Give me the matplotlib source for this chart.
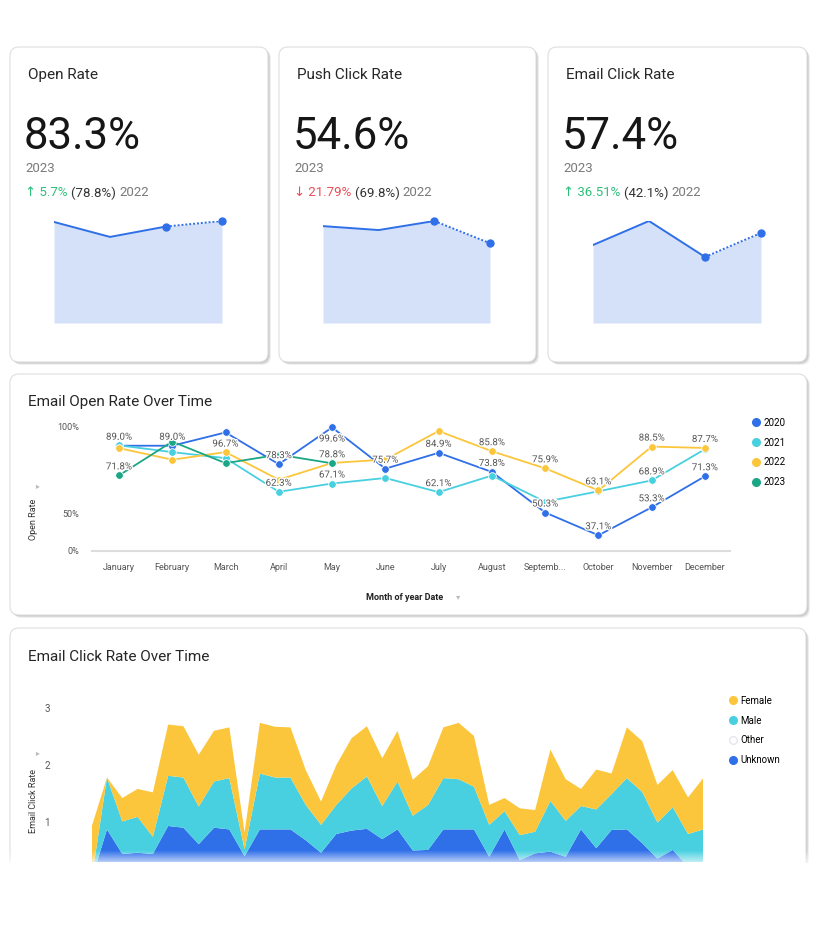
import numpy as np
import matplotlib
matplotlib.use('Agg')
import matplotlib.pyplot as plt
import matplotlib.patheffects as pe
from matplotlib.patches import FancyBboxPatch, Rectangle
from matplotlib.lines import Line2D

W, H = 815, 939
FONT = ['Roboto', 'DejaVu Sans']
plt.rcParams['font.family'] = FONT

# KPI cards
kpi_titles = ['Open Rate', 'Push Click Rate', 'Email Click Rate']
kpi_current = ['83.3%', '54.6%', '57.4%']
kpi_previous = ['(78.8%)', '(69.8%)', '(42.1%)']
kpi_change = ['5.7%', '21.79%', '36.51%']
kpi_up = [True, False, True]
spark_open = [82.5, 70.3, 78.8, 83.3]
spark_push = [66.3, 63.6, 69.8, 54.6]
spark_email = [49.7, 65.0, 42.1, 57.4]

# Email open rate over time
months = ['January', 'February', 'March', 'April', 'May', 'June', 'July',
          'August', 'Septemb...', 'October', 'November', 'December']
open_2020 = [89.0, 89.0, 96.7, 78.3, 99.6, 75.7, 84.9, 73.8, 50.3, 37.1, 53.3, 71.3]
open_2021 = [89.2, 85.3, 81.8, 62.3, 67.1, 70.3, 62.1, 71.7, 56.5, 62.6, 68.9, 87.0]
open_2022 = [87.6, 80.9, 85.3, 69.3, 79.0, 81.0, 97.5, 85.8, 75.9, 63.1, 88.5, 87.7]
open_2023 = [71.8, 91.4, 78.9, 83.8, 78.8]
labelled_months = {'2020': list(range(12)), '2021': [3, 4, 6, 10],
                   '2022': [7, 8, 9, 10, 11], '2023': [0, 4]}

# Email click rate over time (stacked by gender)
click_unknown = [0.0, .87, .44, .46, .44, .93, .90, .61, .90, .87, .40, .87, .87, .87,
                 .68, .46, .79, .85, .88, .70, .87, .50, .51, .87, .87, .87, .39, .87,
                 .33, .45, .48, .39, .87, .54, .86, .87, .63, .36, .51, .22, .16]
click_other = [0.0] * 41
click_male = [0.0, .91, .57, .63, .30, .88, .88, .66, .81, .90, .12, .98, .91, .91,
              .62, .49, .51, .74, .92, .58, .84, .61, .79, .90, .88, .75, .56, .32,
              .44, .38, .89, .63, .41, .68, .63, .90, .90, .63, .75, .57, .71]
click_female = [.92, 0.0, .41, .49, .78, .90, .90, .91, .89, .89, .30, .89, .89, .88,
                .61, .41, .70, .88, .88, .84, .89, .63, .68, .89, .99, .89, .35, .23,
                .47, .38, .90, .73, .30, .70, .36, .89, .89, .66, .65, .64, .90]

BLUE = '#2f6fe8'
CYAN = '#48d0e0'
YELLOW = '#fcc63c'
GREEN = '#1ba786'
FILL = '#d4e1f9'

fig = plt.figure(figsize=(W / 100, H / 100), dpi=100)
fig.patch.set_facecolor('white')


def px_axes(x0, y0, x1, y1, z=1):
    ax = fig.add_axes([x0 / W, 1 - y1 / H, (x1 - x0) / W, (y1 - y0) / H], zorder=z)
    ax.set_facecolor('none')
    return ax


def ftext(x, y, s, **kw):
    return fig.text(x / W, 1 - y / H, s, **kw)


# background with cards
bg = px_axes(0, 0, W, H, z=0)
bg.set_xlim(0, W)
bg.set_ylim(H, 0)
bg.axis('off')

cards = [(10, 47, 268, 362), (279, 47, 536, 362), (548, 47, 807, 362),
         (10, 374, 807, 615), (10, 628, 806, 900)]
for x0, y0, x1, y1 in cards:
    for off, a in [(3, 0.15), (2, 0.25), (1, 0.35)]:
        bg.add_patch(FancyBboxPatch((x0 + off, y0 + off), x1 - x0, y1 - y0,
                                    boxstyle='round,pad=0,rounding_size=9',
                                    fc='#9a9a9a', ec='none', alpha=a))
    bg.add_patch(FancyBboxPatch((x0, y0), x1 - x0, y1 - y0,
                                boxstyle='round,pad=0,rounding_size=9',
                                fc='white', ec='#dedede', lw=0.8))
bg.add_patch(Rectangle((0, 863), W, H - 863, fc='white', ec='none', zorder=5))

renderer = fig.canvas.get_renderer()


def seg_text(x, y, parts, size):
    for s, c in parts:
        t = ftext(x, y, s, color=c, fontsize=size, va='center', ha='left')
        x += t.get_window_extent(renderer).width


def sparkline(x0, x1, vals):
    ax = px_axes(x0, 221, x1, 323)
    xs = np.arange(len(vals))
    ax.fill_between(xs, 0, vals, color=FILL, lw=0)
    ax.plot(xs[:3], vals[:3], color=BLUE, lw=1.4)
    ax.plot(xs[2:], vals[2:], color=BLUE, lw=1.4, ls=(0, (1, 1)))
    ax.plot(xs[2:], vals[2:], 'o', color=BLUE, ms=5, clip_on=False)
    ax.set_xlim(0, len(vals) - 1)
    ax.set_ylim(0, max(vals))
    ax.axis('off')


card_x = [25, 294, 563]
spark_x = [(54, 222), (323, 490), (593, 761)]
sparks = [spark_open, spark_push, spark_email]
for i in range(3):
    x = card_x[i]
    ftext(x + 3, 75, kpi_titles[i], fontsize=11, color='#262626', va='center')
    ftext(x - 1, 137, kpi_current[i], fontsize=31.5, color='#161616', va='center')
    ftext(x, 168, '2023', fontsize=9.5, color='#7a7a7a', va='center')
    col = '#2bbf7a' if kpi_up[i] else '#ea4d57'
    arrow = '\u2191' if kpi_up[i] else '\u2193'
    seg_text(x, 193, [(arrow + ' ' + kpi_change[i] + ' ', col),
                      (kpi_previous[i] + ' ', '#333333'), ('2022', '#7a7a7a')], 9.5)
    sparkline(spark_x[i][0], spark_x[i][1], sparks[i])

# ---- line chart ----
ftext(28, 402, 'Email Open Rate Over Time', fontsize=11, color='#262626', va='center')
ax = px_axes(92, 415, 730, 551, z=2)
series = [('2020', open_2020, BLUE), ('2021', open_2021, CYAN),
          ('2022', open_2022, YELLOW), ('2023', open_2023, GREEN)]
for name, vals, col in series:
    xs = np.arange(len(vals))
    ax.plot(xs, vals, color=col, lw=1.3, marker='o', ms=5.5, mec='white', mew=0.6,
            clip_on=False)
for name, vals, col in series:
    for m in labelled_months[name]:
        v = vals[m]
        dy = -8 if v > 95 else 6.5
        ax.annotate(f'{v:.1f}%', (m, v), xytext=(0, dy), textcoords='offset points',
                    ha='center', va='center', fontsize=7, color='#555555',
                    path_effects=[pe.withStroke(linewidth=2, foreground='white')],
                    zorder=5, annotation_clip=False)
ax.set_xlim((92 - 119) / 53.27, (730 - 119) / 53.27)
ax.set_ylim(28, 106.8)
ax.set_yticks([28, 50, 100])
ax.set_yticklabels(['0%', '50%', '100%'])
ax.set_xticks(range(12))
ax.set_xticklabels(months)
ax.tick_params(length=0, labelsize=6.5, labelcolor='#555555')
ax.tick_params(axis='y', pad=9)
ax.tick_params(axis='x', pad=9)
for s in ['top', 'right', 'left']:
    ax.spines[s].set_visible(False)
ax.spines['bottom'].set_color('#dddddd')
ax.spines['bottom'].set_linewidth(1.5)
ax.set_ylabel('Open Rate', fontsize=6.5, color='#333333', labelpad=0)
ax.yaxis.set_label_coords((38 - 92) / 638, (551 - 519) / 136)
ftext(38, 486, '\u25be', fontsize=6, color='#bbbbbb', rotation=90, ha='center', va='center')
ftext(405, 597, 'Month of year Date', fontsize=6.5, color='#222222', ha='center',
      va='center', fontweight='bold')
ftext(458, 597, '\u25be', fontsize=6, color='#bbbbbb', ha='center', va='center')
handles = [Line2D([], [], ls='none', marker='o', ms=5.5, color=c, mec=c)
           for _, _, c in series]
fig.legend(handles, [n for n, _, _ in series], loc='upper left',
           bbox_to_anchor=(746 / W, 1 - 414 / H), frameon=False, fontsize=7,
           handletextpad=0.2, labelspacing=1.0, handlelength=1.2, borderaxespad=0)

# ---- stacked area chart ----
ftext(28, 657, 'Email Click Rate Over Time', fontsize=11, color='#262626', va='center')
ax2 = px_axes(91.7, 700, 703.3, 862, z=2)
xs = np.arange(len(click_unknown))
ax2.stackplot(xs, click_unknown, click_other, click_male, click_female,
              colors=[BLUE, 'white', CYAN, YELLOW], lw=0)
ax2.set_xlim(0, len(xs) - 1)
ax2.set_ylim((879 - 862) / 57, (879 - 700) / 57)
ax2.set_yticks([1, 2, 3])
ax2.set_xticks([])
ax2.tick_params(length=0, labelsize=7, labelcolor='#555555', pad=30)
for s in ax2.spines.values():
    s.set_visible(False)
ax2.set_ylabel('Email Click Rate', fontsize=6.5, color='#333333')
ax2.yaxis.set_label_coords((38 - 91.7) / 611.6, (862 - 801) / 162)
ftext(38, 753, '\u25be', fontsize=6, color='#bbbbbb', rotation=90, ha='center', va='center')
legend_colors = [(YELLOW, YELLOW), (CYAN, CYAN), ('white', '#e6e6ee'), (BLUE, BLUE)]
area_handles = [Line2D([], [], ls='none', marker='o', ms=5.5, color=fc, mec=ec)
                for fc, ec in legend_colors]
fig.legend(area_handles, ['Female', 'Male', 'Other', 'Unknown'], loc='upper left',
           bbox_to_anchor=(723 / W, 1 - 692 / H), frameon=False, fontsize=7,
           handletextpad=0.2, labelspacing=1.0, handlelength=1.2, borderaxespad=0)

# fade at the bottom edge
fade = px_axes(0, 850, W, 863, z=6)
grad = np.ones((20, 2, 4))
grad[:, :, 3] = np.linspace(0, 0.7, 20)[:, None]
fade.imshow(grad, aspect='auto', extent=(0, 1, 1, 0))
fade.axis('off')

fig.savefig('out.png', dpi=100)
